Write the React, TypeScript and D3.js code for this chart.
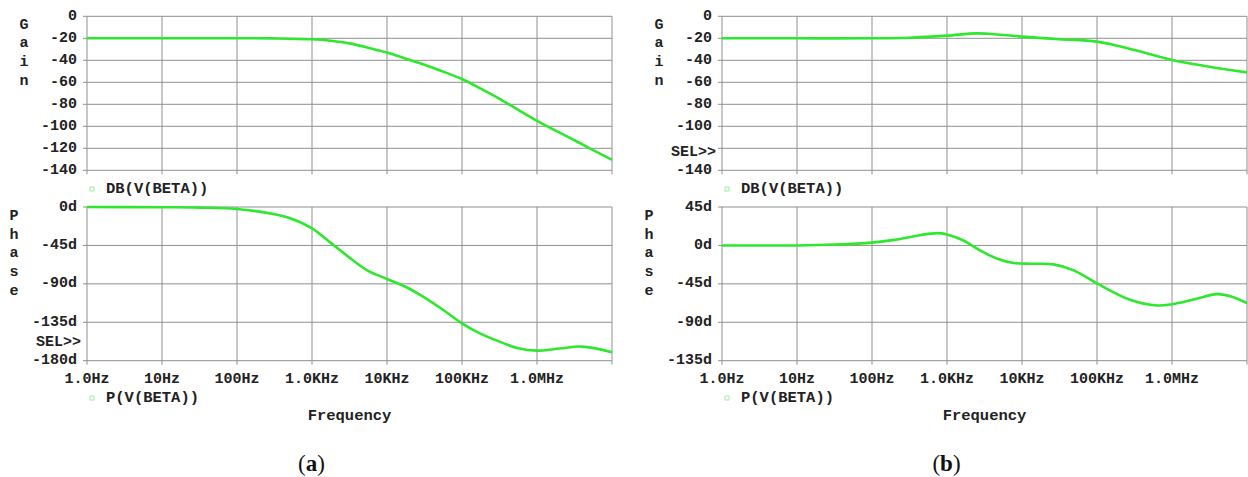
import * as d3 from 'd3'

// frequency grid (one line per decade) and labels
const decadeHz = [1, 10, 100, 1e3, 1e4, 1e5, 1e6, 1e7]
const freqLabels = ['1.0Hz', '10Hz', '100Hz', '1.0KHz', '10KHz', '100KHz', '1.0MHz', '']

const gainTicks = [0, -20, -40, -60, -80, -100, -120, -140]
const gainLabelsA = ['0', '-20', '-40', '-60', '-80', '-100', '-120', '-140']
const gainLabelsB = ['0', '-20', '-40', '-60', '-80', '-100', '', '-140']

const phaseTicksA = [0, -45, -90, -135, -180]
const phaseLabelsA = ['0d', '-45d', '-90d', '-135d', '-180d']
const phaseTicksB = [45, 0, -45, -90, -135]
const phaseLabelsB = ['45d', '0d', '-45d', '-90d', '-135d']

// (a) DB(V(BETA))
const gainFreqA = [1, 10, 100, 316, 1000, 1778, 3162, 5623, 1e4, 17783, 31623, 56234, 1e5, 177828, 316228, 562341, 1e6, 3162278, 1e7]
const gainA = [-20, -20, -20, -20.1, -20.9, -22.3, -24.6, -28.5, -33, -38.5, -44, -50.3, -57, -65.8, -75, -85, -95, -112.7, -130.6]

// (a) P(V(BETA))
const phaseFreqA = [1, 10, 31.6, 100, 316, 513, 1000, 1778, 3236, 5370, 1e4, 18197, 30200, 56234, 1e5, 173780, 316228, 562341, 1e6, 1995262, 3981072, 1e7]
const phaseA = [0, -0.3, -0.7, -2.3, -8.5, -13.2, -25, -42, -60, -73.8, -84.3, -94, -105, -120.6, -136.2, -148, -157.7, -165.5, -168.2, -165.8, -163.5, -170]

// (b) DB(V(BETA))
const gainFreqB = [1, 10, 100, 316, 1000, 2512, 5623, 1e4, 31623, 1e5, 316228, 1e6, 3162278, 1e7]
const gainB = [-20, -20, -20, -19.5, -17.6, -15.5, -17, -18.5, -20.9, -23, -30.6, -39.7, -45.8, -51]

// (b) P(V(BETA))
const phaseFreqB = [1, 10, 31.6, 100, 200, 437, 741, 1000, 1660, 2754, 4677, 7762, 12882, 26303, 48978, 1e5, 275423, 630957, 1e6, 1995262, 3981072, 6309573, 1e7]
const phaseB = [0, 0, 1, 3.3, 6.5, 12, 14.4, 12.9, 5.8, -5.8, -15.5, -20.6, -21.4, -22.2, -29.2, -44.5, -63.7, -70.3, -68.8, -63, -57, -60, -67.6]

const W = 1248
const H = 477
const PLOT_W = 525
const GAIN_TOP = 16.3
const GAIN_BOT = 170.3
const PHASE_TOP = 207
const PHASE_BOT = 360.7

const GREEN = '#2ee82e'
const GRID = '#8f8f8f'
const TEXT = '#222'
const MONO = "'Liberation Mono', 'Courier New', monospace"

type PanelProps = {
  left: number
  gainFreq: number[]
  gain: number[]
  phaseFreq: number[]
  phase: number[]
  gainLabels: string[]
  phaseTicks: number[]
  phaseLabels: string[]
  selIn: 'gain' | 'phase'
  caption: string
}

const Panel = (p: PanelProps) => {
  const x = d3.scaleLog().domain([1, 1e7]).range([p.left, p.left + PLOT_W])
  const yG = d3.scaleLinear().domain([-140, 0]).range([GAIN_BOT, GAIN_TOP])
  const pMax = d3.max(p.phaseTicks) as number
  const pMin = d3.min(p.phaseTicks) as number
  const yP = d3.scaleLinear().domain([pMin, pMax]).range([PHASE_BOT, PHASE_TOP])

  const gainLine = d3.line<number>()
    .x((d, i) => x(p.gainFreq[i]))
    .y(d => yG(d))
    .curve(d3.curveCatmullRom.alpha(0.5))
  const phaseLine = d3.line<number>()
    .x((d, i) => x(p.phaseFreq[i]))
    .y(d => yP(d))
    .curve(d3.curveCatmullRom.alpha(0.5))

  const right = p.left + PLOT_W
  const cx = p.left + PLOT_W / 2

  const grid = (top: number, bot: number, ys: number[]) => (
    <g>
      {decadeHz.map((f, i) => (
        <line key={'v' + i} x1={x(f)} x2={x(f)} y1={top} y2={bot + 4} stroke={GRID} strokeWidth={1} />
      ))}
      {ys.map((y, i) => (
        <line key={'h' + i} x1={p.left - 4} x2={right} y1={y} y2={y} stroke={GRID} strokeWidth={1} />
      ))}
    </g>
  )

  const vertical = (word: string, xPos: number, y0: number) => (
    <g>
      {word.split('').map((c, i) => (
        <text key={i} x={xPos} y={y0 + i * 18.6} textAnchor="middle" dominantBaseline="central"
          fontFamily={MONO} fontWeight="bold" fontSize={15} fill={TEXT}>{c}</text>
      ))}
    </g>
  )

  const legend = (label: string, y: number) => (
    <g>
      <rect x={p.left + 3} y={y - 2} width={4} height={4} fill="none" stroke="#9ef09e" strokeWidth={1} />
      <text x={p.left + 19} y={y} dominantBaseline="central" fontFamily={MONO} fontWeight="bold"
        fontSize={15.5} fill={TEXT}>{label}</text>
    </g>
  )

  const capX = cx - 38

  return (
    <g>
      {grid(GAIN_TOP, GAIN_BOT, gainTicks.map(t => yG(t)))}
      {grid(PHASE_TOP, PHASE_BOT, p.phaseTicks.map(t => yP(t)))}

      {gainTicks.map((t, i) => (
        <text key={'gl' + i} x={p.left - 10} y={yG(t)} textAnchor="end" dominantBaseline="central"
          fontFamily={MONO} fontWeight="bold" fontSize={15} fill={TEXT}>{p.gainLabels[i]}</text>
      ))}
      {p.phaseTicks.map((t, i) => (
        <text key={'pl' + i} x={p.left - 10} y={yP(t)} textAnchor="end" dominantBaseline="central"
          fontFamily={MONO} fontWeight="bold" fontSize={15} fill={TEXT}>{p.phaseLabels[i]}</text>
      ))}
      <text x={p.left - 6} y={(p.selIn === 'gain' ? GAIN_BOT : PHASE_BOT) - 18} textAnchor="end"
        dominantBaseline="central" fontFamily={MONO} fontWeight="bold" fontSize={15} fill={TEXT}>SEL&gt;&gt;</text>

      {decadeHz.map((f, i) => (
        <text key={'xl' + i} x={x(f)} y={379.5} textAnchor="middle" dominantBaseline="central"
          fontFamily={MONO} fontWeight="bold" fontSize={15} fill={TEXT}>{freqLabels[i]}</text>
      ))}

      {vertical('Gain', p.left - 63, 25.3)}
      {vertical('Phase', p.left - 73, 216.7)}

      <path d={gainLine(p.gain) || ''} fill="none" stroke={GREEN} strokeWidth={2.6} />
      <path d={phaseLine(p.phase) || ''} fill="none" stroke={GREEN} strokeWidth={2.6} />

      {legend('DB(V(BETA))', 189)}
      {legend('P(V(BETA))', 398)}

      <text x={cx} y={416} textAnchor="middle" dominantBaseline="central" fontFamily={MONO}
        fontWeight="bold" fontSize={15.5} fill={TEXT}>Frequency</text>

      <text x={capX} y={463} textAnchor="middle" dominantBaseline="central"
        fontFamily="'Liberation Serif', 'DejaVu Serif', serif" fontSize={23} fill="#111">
        (<tspan fontWeight="bold">{p.caption}</tspan>)
      </text>
    </g>
  )
}

export default function App() {
  return (
    <svg width={W} height={H} style={{ position: 'absolute', left: 0, top: 0, background: '#fff' }}>
      <rect width={W} height={H} fill="#fff" />
      <Panel left={87} gainFreq={gainFreqA} gain={gainA} phaseFreq={phaseFreqA} phase={phaseA}
        gainLabels={gainLabelsA} phaseTicks={phaseTicksA} phaseLabels={phaseLabelsA} selIn="phase" caption="a" />
      <Panel left={722} gainFreq={gainFreqB} gain={gainB} phaseFreq={phaseFreqB} phase={phaseB}
        gainLabels={gainLabelsB} phaseTicks={phaseTicksB} phaseLabels={phaseLabelsB} selIn="gain" caption="b" />
    </svg>
  )
}
